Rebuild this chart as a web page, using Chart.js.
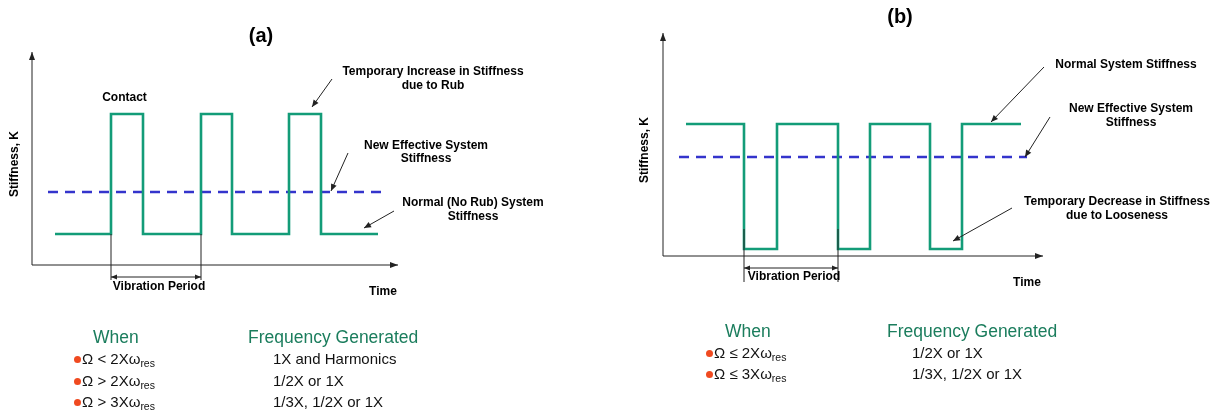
<!DOCTYPE html>
<html>
<head>
<meta charset="utf-8">
<script src="https://cdn.jsdelivr.net/npm/chart.js@4.4.1/dist/chart.umd.min.js"></script>
<style>
  html, body { margin: 0; padding: 0; background: #ffffff; }
  body { width: 1222px; height: 414px; position: relative; overflow: hidden;
         font-family: "Liberation Sans", Arial, sans-serif; }
  canvas { position: absolute; top: 0; }
  #rub { left: 0; }
  #loose { left: 611px; }
  .t { position: absolute; white-space: nowrap; line-height: 20px; }
  .head { color: #1b7d5d; font-size: 17.5px; }
  .row { color: #111; font-size: 15px; }
  .row sub { font-size: 10.5px; vertical-align: -3px; line-height: 0; }
  .dot { display: inline-block; width: 7px; height: 7px; border-radius: 50%;
         background: #f04a20; margin-right: 1px; vertical-align: 1px; }
</style>
</head>
<body>
<canvas id="rub" width="611" height="414"></canvas>
<canvas id="loose" width="611" height="414"></canvas>
<div id="tables"></div>
<script>
// ---- (a) rub: stiffness steps (time, stiffness) ----
const RUB_T = [2.3, 7.9, 11.1, 16.9, 20.0, 25.7, 28.9, 34.6];
const RUB_K = [3.1, 15.1, 3.1, 15.1, 3.1, 15.1, 3.1, 3.1];
const RUB_EFF_T = [1.6, 35.1];
const RUB_EFF_K = [7.3, 7.3];
const RUB_PERIOD = [7.9, 16.9];

// ---- (b) looseness: stiffness steps ----
const LOOSE_T = [2.3, 8.1, 11.4, 17.5, 20.7, 26.7, 29.9, 35.8];
const LOOSE_K = [13.2, 0.7, 13.2, 0.7, 13.2, 0.7, 13.2, 13.2];
const LOOSE_EFF_T = [1.6, 36.4];
const LOOSE_EFF_K = [9.9, 9.9];
const LOOSE_PERIOD = [8.1, 17.5];

// ---- frequency tables ----
const RUB_WHEN = [["<", "2"], [">", "2"], [">", "3"]];
const RUB_FREQ = ["1X and Harmonics", "1/2X or 1X", "1/3X, 1/2X or 1X"];
const LOOSE_WHEN = [["\u2264", "2"], ["\u2264", "3"]];
const LOOSE_FREQ = ["1/2X or 1X", "1/3X, 1/2X or 1X"];

const GREEN = "#139c78";
const BLUE = "#3434cc";
const INK = "#222222";
const FONT = '"Liberation Sans", Arial, sans-serif';

function pts(xs, ys) { return xs.map((x, i) => ({ x: x, y: ys[i] })); }

function arrowHead(ctx, x0, y0, x1, y1, len, half) {
  const a = Math.atan2(y1 - y0, x1 - x0);
  ctx.beginPath();
  ctx.moveTo(x1, y1);
  ctx.lineTo(x1 - len * Math.cos(a) + half * Math.sin(a), y1 - len * Math.sin(a) - half * Math.cos(a));
  ctx.lineTo(x1 - len * Math.cos(a) - half * Math.sin(a), y1 - len * Math.sin(a) + half * Math.cos(a));
  ctx.closePath();
  ctx.fill();
}

function arrowLine(ctx, x0, y0, x1, y1, len, half) {
  ctx.beginPath();
  ctx.moveTo(x0, y0);
  ctx.lineTo(x1, y1);
  ctx.stroke();
  arrowHead(ctx, x0, y0, x1, y1, len, half);
}

// Draws axes, period marker and callouts in data units of the chart's scales
const schematic = {
  id: "schematic",
  afterDatasetsDraw(chart, args, o) {
    const ctx = chart.ctx;
    const sx = chart.scales.x, sy = chart.scales.y;
    const X = v => sx.getPixelForValue(v);
    const Y = v => sy.getPixelForValue(v);
    ctx.save();
    ctx.strokeStyle = INK;
    ctx.fillStyle = INK;
    ctx.lineWidth = 1;

    // axes with arrow tips
    const x0 = X(sx.min), y0 = Y(sy.min);
    arrowLine(ctx, x0, y0, x0, Y(sy.max), 8, 3);
    arrowLine(ctx, x0, y0, X(sx.max), y0, 8, 3);

    // vibration period marker
    const [p0, p1] = o.period;
    ctx.beginPath();
    ctx.moveTo(X(p0), Y(o.periodTop)); ctx.lineTo(X(p0), Y(o.periodBottom));
    ctx.moveTo(X(p1), Y(o.periodTop)); ctx.lineTo(X(p1), Y(o.periodBottom));
    ctx.moveTo(X(p0), Y(o.periodArrow)); ctx.lineTo(X(p1), Y(o.periodArrow));
    ctx.stroke();
    arrowHead(ctx, X(p1), Y(o.periodArrow), X(p0), Y(o.periodArrow), 6, 2.5);
    arrowHead(ctx, X(p0), Y(o.periodArrow), X(p1), Y(o.periodArrow), 6, 2.5);

    // callout arrows
    o.callouts.forEach(c => {
      if (c.from) arrowLine(ctx, X(c.from[0]), Y(c.from[1]), X(c.to[0]), Y(c.to[1]), 7, 3);
    });

    // text
    ctx.fillStyle = "#000000";
    ctx.textAlign = "center";
    ctx.textBaseline = "middle";
    o.callouts.forEach(c => {
      ctx.font = "bold " + (c.size || 12) + "px " + FONT;
      c.lines.forEach((ln, i) => ctx.fillText(ln, X(c.x), Y(c.y[i])));
    });

    // rotated axis title
    ctx.font = "bold 12px " + FONT;
    ctx.translate(X(o.yTitle[0]), Y(o.yTitle[1]));
    ctx.rotate(-Math.PI / 2);
    ctx.fillText("Stiffness, K", 0, 0);
    ctx.restore();
  }
};

function makeChart(id, t, k, effT, effK, xMax, yMax, pad, opts) {
  return new Chart(document.getElementById(id), {
    type: "line",
    data: {
      datasets: [
        { data: pts(t, k), stepped: true, borderColor: GREEN, borderWidth: 2.6,
          pointRadius: 0, fill: false, borderJoinStyle: "miter", clip: false },
        { data: pts(effT, effK), borderColor: BLUE, borderWidth: 2.6, borderDash: [10, 7],
          pointRadius: 0, fill: false, clip: false }
      ]
    },
    options: {
      responsive: false,
      animation: false,
      events: [],
      layout: { padding: pad },
      plugins: { legend: { display: false }, tooltip: { enabled: false }, schematic: opts },
      scales: {
        x: { type: "linear", min: 0, max: xMax, display: false },
        y: { type: "linear", min: 0, max: yMax, display: false }
      }
    },
    plugins: [schematic]
  });
}

makeChart("rub", RUB_T, RUB_K, RUB_EFF_T, RUB_EFF_K, 36.6, 21.3,
  { left: 32, right: 213, top: 52, bottom: 149 },
  {
    period: RUB_PERIOD, periodTop: 3.1, periodBottom: -1.5, periodArrow: -1.2,
    yTitle: [-1.7, 10.1],
    callouts: [
      { lines: ["(a)"], x: 22.9, y: [22.9], size: 20 },
      { lines: ["Contact"], x: 9.25, y: [16.7] },
      { lines: ["Temporary Increase in Stiffness", "due to Rub"], x: 40.1, y: [19.3, 17.9],
        from: [30.0, 18.6], to: [28.0, 15.8] },
      { lines: ["New Effective System", "Stiffness"], x: 39.4, y: [11.9, 10.6],
        from: [31.6, 11.2], to: [29.9, 7.4] },
      { lines: ["Normal (No Rub) System", "Stiffness"], x: 44.1, y: [6.2, 4.8],
        from: [36.2, 5.4], to: [33.2, 3.7] },
      { lines: ["Vibration Period"], x: 12.7, y: [-2.2] },
      { lines: ["Time"], x: 35.1, y: [-2.7] }
    ]
  });

makeChart("loose", LOOSE_T, LOOSE_K, LOOSE_EFF_T, LOOSE_EFF_K, 38.0, 22.3,
  { left: 52, right: 179, top: 33, bottom: 158 },
  {
    period: LOOSE_PERIOD, periodTop: 2.7, periodBottom: -2.6, periodArrow: -1.2,
    yTitle: [-1.8, 10.6],
    callouts: [
      { lines: ["(b)"], x: 23.7, y: [23.9], size: 20 },
      { lines: ["Normal System Stiffness"], x: 46.3, y: [19.1],
        from: [38.1, 18.9], to: [32.8, 13.4] },
      { lines: ["New Effective System", "Stiffness"], x: 46.8, y: [14.7, 13.3],
        from: [38.7, 13.9], to: [36.2, 9.9] },
      { lines: ["Temporary Decrease in Stiffness", "due to Looseness"], x: 45.4, y: [5.4, 4.0],
        from: [34.9, 4.8], to: [29.0, 1.5] },
      { lines: ["Vibration Period"], x: 13.1, y: [-2.1] },
      { lines: ["Time"], x: 36.4, y: [-2.7] }
    ]
  });

// ---- frequency tables below each panel ----
function table(whenX, freqX, headY, rowYs, when, freq) {
  const box = document.getElementById("tables");
  const add = (cls, x, y, html) => {
    const d = document.createElement("div");
    d.className = "t " + cls;
    d.style.left = x + "px";
    d.style.top = (y - 10) + "px";
    d.innerHTML = html;
    box.appendChild(d);
  };
  add("head", whenX + 16, headY, "When");
  add("head", freqX, headY, "Frequency Generated");
  when.forEach((w, i) => {
    add("row", whenX - 3, rowYs[i],
      '<span class="dot"></span>\u03A9 ' + w[0] + " " + w[1] + "X\u03C9<sub>res</sub>");
    add("row", freqX + 25, rowYs[i], freq[i]);
  });
}
table(77, 248, 337, [359, 381, 402], RUB_WHEN, RUB_FREQ);
table(709, 887, 331, [353, 374], LOOSE_WHEN, LOOSE_FREQ);
</script>
</body>
</html>
